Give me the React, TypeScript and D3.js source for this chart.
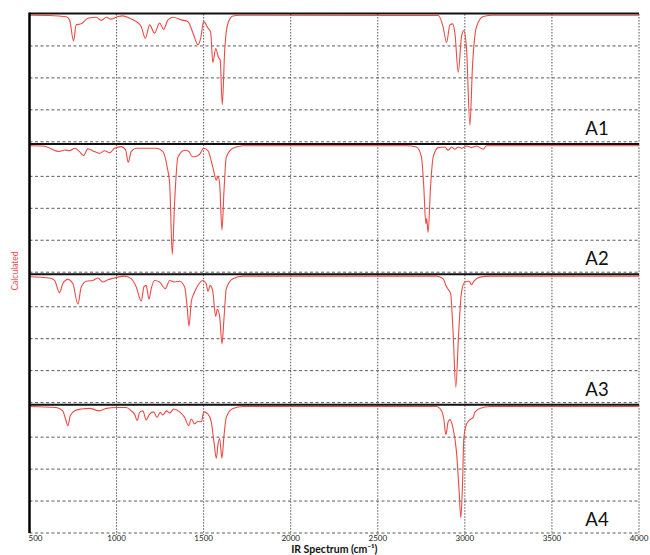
import React, { useEffect, useRef } from 'react';
import * as d3 from 'd3';

// panel names, x ticks (cm-1) and the horizontal grid positions (relative intensity)
const panels = ['A1', 'A2', 'A3', 'A4'];
const xTicks = [500, 1000, 1500, 2000, 2500, 3000, 3500, 4000];
const yGrid = [0.25, 0.5, 0.75, 1];

// calculated IR spectra: [wavenumber, absorbance (0 = top of panel, 1 = bottom)]
const spectrumA1: [number, number][] = [
    [500, 0.01], [615, 0.012], [711, 0.022], [730, 0.046], [753, 0.21], [768, 0.085], [797, 0.077],
    [835, 0.033], [883, 0.025], [912, 0.05], [941, 0.025], [969, 0.04], [1008, 0.02], [1036, 0.015],
    [1075, 0.033], [1113, 0.06], [1142, 0.1], [1165, 0.19], [1190, 0.085], [1218, 0.15], [1247, 0.07],
    [1270, 0.12], [1295, 0.046], [1324, 0.025], [1372, 0.046], [1410, 0.06], [1439, 0.15], [1467, 0.24],
    [1483, 0.19], [1500, 0.06], [1525, 0.11], [1540, 0.14], [1553, 0.38], [1569, 0.27], [1586, 0.34],
    [1595, 0.36], [1607, 0.71], [1621, 0.28], [1640, 0.07], [1668, 0.015], [1707, 0.01],
    [2847, 0.012], [2875, 0.1], [2895, 0.225], [2914, 0.085], [2929, 0.077], [2943, 0.15], [2962, 0.456],
    [2981, 0.175], [2994, 0.13], [3010, 0.28], [3029, 0.87], [3044, 0.405], [3067, 0.1], [3105, 0.02],
    [3163, 0.01], [4000, 0.01],
];

const spectrumA2: [number, number][] = [
    [500, 0.01], [577, 0.012], [672, 0.056], [701, 0.044], [730, 0.05], [759, 0.03], [787, 0.056],
    [810, 0.087], [835, 0.035], [873, 0.056], [902, 0.07], [931, 0.05], [960, 0.066], [988, 0.03],
    [1027, 0.017], [1052, 0.044], [1067, 0.14], [1084, 0.056], [1113, 0.03], [1170, 0.03], [1228, 0.03],
    [1266, 0.056], [1291, 0.18], [1305, 0.31], [1320, 0.86], [1333, 0.46], [1352, 0.1], [1391, 0.046],
    [1416, 0.056], [1435, 0.097], [1462, 0.09], [1477, 0.077], [1500, 0.03], [1525, 0.05], [1553, 0.18],
    [1573, 0.28], [1582, 0.25], [1592, 0.31], [1605, 0.67], [1617, 0.36], [1630, 0.1], [1668, 0.03],
    [1726, 0.01], [2665, 0.01], [2722, 0.02], [2751, 0.1], [2764, 0.33], [2776, 0.62], [2781, 0.58],
    [2789, 0.69], [2803, 0.33], [2818, 0.1], [2847, 0.025], [2885, 0.02], [2904, 0.046], [2924, 0.02],
    [2943, 0.038], [2962, 0.02], [2981, 0.03], [3010, 0.013], [3038, 0.025], [3067, 0.013], [3105, 0.038],
    [3124, 0.01], [4000, 0.01],
];

const spectrumA3: [number, number][] = [
    [500, 0.015], [615, 0.025], [644, 0.044], [672, 0.14], [691, 0.07], [720, 0.036], [749, 0.07],
    [778, 0.23], [797, 0.095], [826, 0.05], [864, 0.044], [893, 0.025], [921, 0.056], [950, 0.038],
    [988, 0.025], [1046, 0.01], [1084, 0.03], [1113, 0.095], [1142, 0.205], [1157, 0.095], [1170, 0.083],
    [1186, 0.19], [1199, 0.108], [1218, 0.044], [1247, 0.056], [1280, 0.108], [1305, 0.044], [1333, 0.056],
    [1362, 0.05], [1391, 0.095], [1404, 0.23], [1416, 0.4], [1429, 0.21], [1448, 0.135], [1473, 0.07],
    [1496, 0.044], [1515, 0.07], [1525, 0.13], [1538, 0.083], [1553, 0.135], [1569, 0.325], [1578, 0.27],
    [1592, 0.325], [1605, 0.54], [1617, 0.34], [1630, 0.108], [1668, 0.03], [1726, 0.01],
    [2837, 0.01], [2875, 0.03], [2891, 0.083], [2904, 0.113], [2918, 0.146], [2933, 0.467], [2948, 0.88],
    [2964, 0.467], [2981, 0.133], [3000, 0.056], [3025, 0.05], [3038, 0.077], [3052, 0.05], [3086, 0.018],
    [3143, 0.01], [4000, 0.01],
];

const spectrumA4: [number, number][] = [
    [500, 0.01], [653, 0.018], [691, 0.044], [707, 0.108], [720, 0.16], [734, 0.083], [759, 0.044],
    [797, 0.03], [845, 0.025], [902, 0.044], [941, 0.025], [998, 0.018], [1056, 0.018], [1084, 0.044],
    [1103, 0.07], [1119, 0.12], [1132, 0.056], [1151, 0.044], [1170, 0.115], [1190, 0.07], [1213, 0.052],
    [1232, 0.095], [1251, 0.056], [1266, 0.077], [1286, 0.044], [1305, 0.062], [1328, 0.03], [1362, 0.052],
    [1391, 0.095], [1414, 0.16], [1429, 0.108], [1448, 0.146], [1467, 0.128], [1487, 0.13], [1500, 0.052],
    [1525, 0.07], [1544, 0.13], [1559, 0.287], [1573, 0.415], [1582, 0.31], [1592, 0.26], [1605, 0.415],
    [1617, 0.236], [1630, 0.095], [1668, 0.025], [1726, 0.01],
    [2837, 0.01], [2866, 0.044], [2879, 0.108], [2891, 0.23], [2904, 0.13], [2914, 0.113], [2933, 0.185],
    [2952, 0.365], [2967, 0.67], [2977, 0.88], [2987, 0.595], [2994, 0.26], [3010, 0.146], [3029, 0.113],
    [3048, 0.095], [3057, 0.056], [3086, 0.025], [3143, 0.01], [4000, 0.01],
];

const spectra = [spectrumA1, spectrumA2, spectrumA3, spectrumA4];

export default function App() {
    const svgRef = useRef<SVGSVGElement>(null);
    const width = 650,
        height = 555;
    const margin = { top: 14, right: 11, bottom: 22, left: 29.5 };

    useEffect(() => {
        const svg = d3.select(svgRef.current);
        svg.selectAll('*').remove();

        const x = d3.scaleLinear().domain([500, 4000]).range([margin.left, width - margin.right]);
        const panelY = d3
            .scaleBand()
            .domain(panels)
            .range([margin.top, height - margin.bottom])
            .paddingInner(0.02);

        const font = 'Lato, "Open Sans", sans-serif';

        panels.forEach((name, i) => {
            const top = panelY(name) as number;
            const y = d3.scaleLinear().domain([0, 1]).range([top, top + panelY.bandwidth()]);
            const g = svg.append('g');

            // horizontal dashed grid
            g.selectAll('line.hgrid')
                .data(yGrid)
                .join('line')
                .attr('x1', x(500))
                .attr('x2', x(4000))
                .attr('y1', (d) => y(d))
                .attr('y2', (d) => y(d))
                .attr('stroke', '#5a5a5a')
                .attr('stroke-width', 1)
                .attr('stroke-dasharray', '3,2.5');

            // vertical dotted grid
            g.selectAll('line.vgrid')
                .data(xTicks.slice(1))
                .join('line')
                .attr('x1', (d) => x(d))
                .attr('x2', (d) => x(d))
                .attr('y1', y(0))
                .attr('y2', y(1) + 2)
                .attr('stroke', '#555')
                .attr('stroke-width', 1)
                .attr('stroke-dasharray', '1.5,1.5');

            // spectrum
            const line = d3
                .line<[number, number]>()
                .x((d) => x(d[0]))
                .y((d) => y(d[1]))
                .curve(d3.curveMonotoneX);

            g.append('path')
                .datum(spectra[i])
                .attr('d', line)
                .attr('fill', 'none')
                .attr('stroke', '#ec4a45')
                .attr('stroke-width', 1.1);

            // top border of the panel
            g.append('line')
                .attr('x1', x(500))
                .attr('x2', x(4000))
                .attr('y1', y(0) - 0.5)
                .attr('y2', y(0) - 0.5)
                .attr('stroke', '#111')
                .attr('stroke-width', 2);

            g.append('text')
                .attr('x', x(4000) - 42)
                .attr('y', top + 121)
                .attr('text-anchor', 'middle')
                .style('font-family', font)
                .style('font-size', '18.5px')
                .attr('fill', '#111')
                .text(name);
        });

        // left axis line
        svg.append('line')
            .attr('x1', x(500))
            .attr('x2', x(500))
            .attr('y1', margin.top - 1.5)
            .attr('y2', height - margin.bottom)
            .attr('stroke', '#000')
            .attr('stroke-width', 2.5);

        // x tick labels
        svg.selectAll('text.tick')
            .data(xTicks)
            .join('text')
            .attr('class', 'tick')
            .attr('x', (d, i) => (i === 0 ? x(d) - 1 : x(d)))
            .attr('y', height - margin.bottom + 7.5)
            .attr('text-anchor', (d, i) => (i === 0 ? 'start' : 'middle'))
            .style('font-family', font)
            .style('font-size', '8px')
            .attr('fill', '#222')
            .text((d) => d);

        svg.append('text')
            .attr('x', (x(500) + x(4000)) / 2)
            .attr('y', height - 2.5)
            .attr('text-anchor', 'middle')
            .style('font-family', font)
            .style('font-size', '10.5px')
            .style('font-weight', 'bold')
            .attr('fill', '#111')
            .text('IR Spectrum (cm⁻¹)');

        svg.append('text')
            .attr('transform', `translate(18, 271) rotate(-90)`)
            .attr('text-anchor', 'middle')
            .style('font-family', font)
            .style('font-size', '8.5px')
            .attr('fill', '#e8474a')
            .text('Calculated');
        //eslint-disable-next-line
    }, []);

    return (
        <svg
            ref={svgRef}
            width={width}
            height={height}
            style={{ position: 'absolute', left: 0, top: 0, background: '#fff' }}
        />
    );
}
